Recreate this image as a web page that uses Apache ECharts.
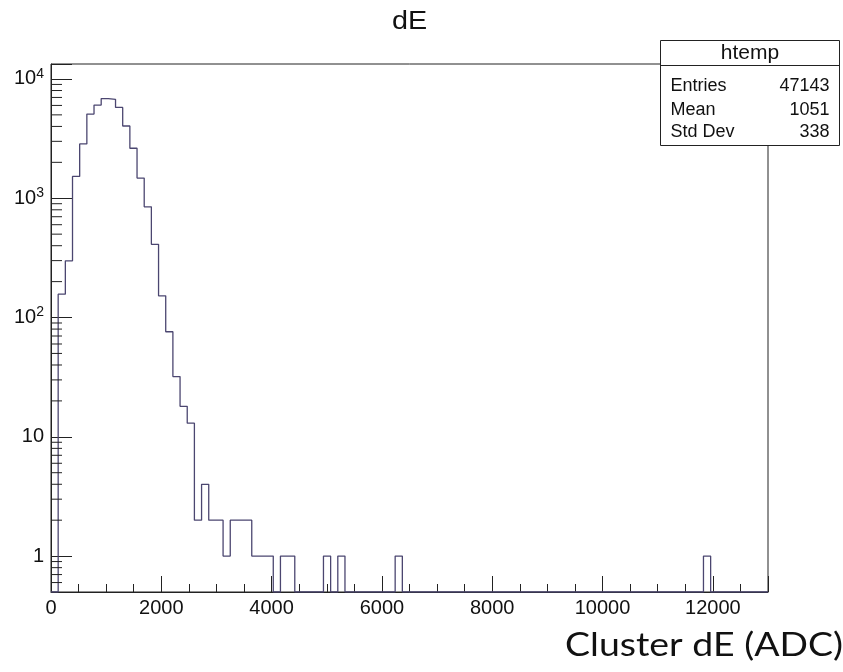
<!DOCTYPE html>
<html><head><meta charset="utf-8">
<script src="https://cdn.jsdelivr.net/npm/echarts@6/dist/echarts.min.js"></script>
<style>html,body{margin:0;padding:0;background:#fff}#c{width:843px;height:672px}</style>
</head><body><div id="c"></div>
<script>
// ---- data ----
const binWidth = 130;
const xMin = 0, xMax = 13000;
const yMin = 0.5, yMax = 13350;
const binCounts = [
  0,157,299,1525,2855,5080,6040,6850,6750,5770,4035,2625,1477,847,411,152,76,32,18,13,
  2,4,2,2,1,2,2,2,1,1,1,0,1,1,0,0,0,0,1,0,
  1,0,0,0,0,0,0,0,1,0,0,0,0,0,0,0,0,0,0,0,
  0,0,0,0,0,0,0,0,0,0,0,0,0,0,0,0,0,0,0,0,
  0,0,0,0,0,0,0,0,0,0,0,1,0,0,0,0,0,0,0,0
];
const xTickLabels = [0, 2000, 4000, 6000, 8000, 10000, 12000];
const yTickValues = [1, 10, 100, 1000, 10000];
const yMinorTicks = [0.6,0.7,0.8,0.9,2,3,4,5,6,7,8,9,20,30,40,50,60,70,80,90,
  200,300,400,500,600,700,800,900,2000,3000,4000,5000,6000,7000,8000,9000];
const chartTitle = 'dE';
const xAxisTitle = 'Cluster dE (ADC)';
const statsTitle = 'htemp';
const statsLabels = ['Entries', 'Mean', 'Std Dev'];
const statsValues = ['47143', '1051', '338'];

// ---- build ----
const histPoints = binCounts.map((c, i) => [i * binWidth, Math.max(c, yMin)]);
histPoints.push([binCounts.length * binWidth, Math.max(binCounts[binCounts.length - 1], yMin)]);

const frameColor = '#222';
const lineColor = '#4b4670';
const rootFont = '"Liberation Sans", Arial, Helvetica, sans-serif';

const chart = echarts.init(document.getElementById('c'), null, {renderer: 'canvas'});

function yLabel(v) {
  const e = Math.log10(v);
  const r = Math.round(e);
  if (Math.abs(e - r) > 1e-6 || yTickValues.indexOf(Math.pow(10, r)) < 0) return '';
  if (r === 0) return '{b|1}';
  if (r === 1) return '{b|10}';
  return '{b|10}{s|' + r + '}';
}

const statsRowsY = [86, 110, 132];
const graphics = [
  {type: 'text', x: 409.5, y: 22, z: 100, scaleX: 1.15,
   style: {text: chartTitle, font: '25px ' + rootFont, fill: '#111', align: 'center', verticalAlign: 'middle'}},
  {type: 'text', x: 843, y: 646, z: 100, scaleX: 1.17,
   style: {text: xAxisTitle, font: '32px Lato, sans-serif', fill: '#111', align: 'right', verticalAlign: 'middle'}},
  {type: 'rect', z: 100, shape: {x: 660.5, y: 40.5, width: 179, height: 105},
   style: {fill: '#fff', stroke: frameColor, lineWidth: 1}},
  {type: 'line', z: 101, shape: {x1: 660.5, y1: 65.5, x2: 839.5, y2: 65.5},
   style: {stroke: frameColor, lineWidth: 1}},
  {type: 'text', x: 750, y: 53, z: 102,
   style: {text: statsTitle, font: '21px ' + rootFont, fill: '#111', align: 'center', verticalAlign: 'middle'}}
];
statsLabels.forEach((l, i) => {
  graphics.push({type: 'text', x: 670.5, y: statsRowsY[i], z: 102,
    style: {text: l, font: '18px ' + rootFont, fill: '#111', align: 'left', verticalAlign: 'middle'}});
  graphics.push({type: 'text', x: 829.5, y: statsRowsY[i], z: 102,
    style: {text: statsValues[i], font: '18px ' + rootFont, fill: '#111', align: 'right', verticalAlign: 'middle'}});
});

const option = {
  animation: false,
  backgroundColor: '#fff',
  grid: {left: 51, right: 75, top: 64, bottom: 80, show: true, borderColor: frameColor, borderWidth: 1, containLabel: false},
  xAxis: [
    {type: 'value', min: xMin, max: xMax, interval: 2000, position: 'bottom',
     axisLine: {show: true, lineStyle: {color: frameColor, width: 1}},
     axisTick: {show: true, inside: true, length: 16, lineStyle: {color: frameColor, width: 1}},
     splitLine: {show: false},
     axisLabel: {show: true, margin: 6, color: '#111', fontSize: 20, fontFamily: rootFont,
       formatter: v => (xTickLabels.indexOf(v) >= 0 ? String(v) : '')}},
    {type: 'value', min: xMin, max: xMax, interval: 500, position: 'bottom', offset: 0,
     axisLine: {show: false},
     axisTick: {show: true, inside: true, length: 8, lineStyle: {color: frameColor, width: 1}},
     splitLine: {show: false}, axisLabel: {show: false}}
  ],
  yAxis: {
    type: 'log', logBase: 10, min: yMin, max: yMax,
    axisLine: {show: true, lineStyle: {color: frameColor, width: 1}},
    axisTick: {show: true, inside: true, length: 21, lineStyle: {color: frameColor, width: 1}},
    splitLine: {show: false},
    axisLabel: {show: true, margin: 7, color: '#111', formatter: yLabel,
      rich: {
        b: {fontSize: 20, fontFamily: rootFont, color: '#111'},
        s: {fontSize: 14, fontFamily: rootFont, color: '#111', padding: [0, 0, 10, 0]}
      }}
  },
  series: [
    {type: 'line', xAxisIndex: 0, data: histPoints, step: 'end', symbol: 'none',
     lineStyle: {color: lineColor, width: 1.3}, clip: true, z: 3},
    {type: 'custom', xAxisIndex: 0, data: yMinorTicks.map(v => [xMin, v]), z: 4, clip: false,
     renderItem: function (params, api) {
       const p = api.coord([api.value(0), api.value(1)]);
       return {type: 'line', shape: {x1: p[0], y1: p[1], x2: p[0] + 11, y2: p[1]},
               style: {stroke: frameColor, lineWidth: 1}};
     }}
  ],
  graphic: graphics
};
chart.setOption(option);
</script>
</body></html>
